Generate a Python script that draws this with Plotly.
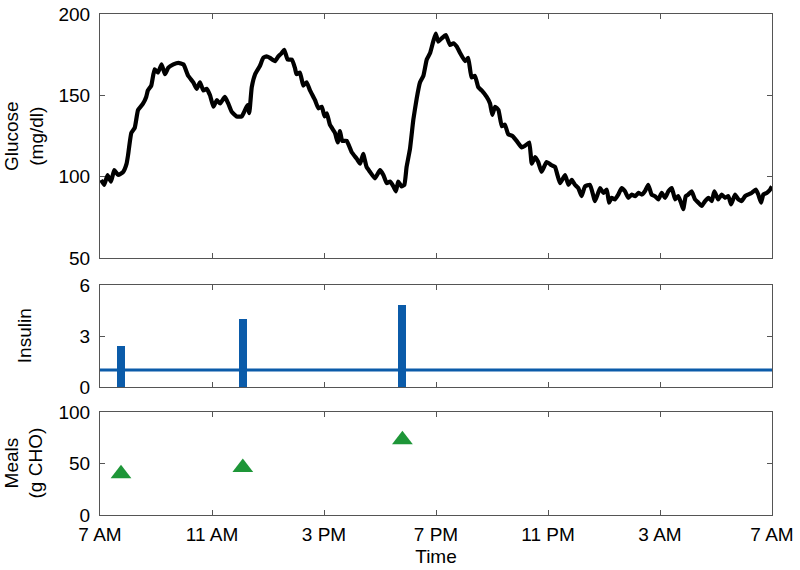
import plotly.graph_objects as go

# ---- data (hours after 7 AM) ----
glucose_t = [0.04, 0.15, 0.27, 0.39, 0.51, 0.65, 0.83, 0.95, 1.0, 1.12, 1.24, 1.36, 1.54, 1.65, 1.71, 1.83,
             1.95, 2.07, 2.2, 2.32, 2.44, 2.62, 2.8, 2.98, 3.15, 3.33, 3.45, 3.57, 3.69, 3.81, 3.93, 4.05,
             4.17, 4.29, 4.46, 4.58, 4.7, 4.88, 5.06, 5.18, 5.27, 5.33, 5.42, 5.54, 5.71, 5.83, 5.95,
             6.07, 6.25, 6.37, 6.49, 6.58, 6.70, 6.85, 6.96, 7.02, 7.14, 7.26, 7.38, 7.5, 7.68, 7.8, 7.92,
             8.02, 8.1, 8.21, 8.39, 8.49, 8.57, 8.65, 8.81, 8.99, 9.17, 9.29, 9.40, 9.52, 9.64, 9.82, 10.0,
             10.12, 10.24, 10.36, 10.48, 10.57, 10.65, 10.77, 10.87, 10.95, 11.07, 11.19, 11.31, 11.43,
             11.55, 11.67, 11.79, 11.9, 11.99, 12.08, 12.2, 12.35, 12.5, 12.62, 12.74, 12.86, 13.04, 13.15,
             13.27, 13.39, 13.51, 13.63, 13.81, 13.93, 14.01, 14.11, 14.23, 14.35, 14.46, 14.58, 14.73,
             14.88, 15.06, 15.18, 15.33, 15.42, 15.54, 15.65, 15.77, 15.95, 16.13, 16.25, 16.43, 16.61,
             16.73, 16.85, 16.96, 17.08, 17.2, 17.32, 17.5, 17.68, 17.86, 17.98, 18.1, 18.18, 18.27, 18.39,
             18.51, 18.63, 18.75, 18.87, 18.99, 19.11, 19.23, 19.35, 19.46, 19.58, 19.7, 19.82, 19.94,
             20.06, 20.18, 20.3, 20.42, 20.54, 20.65, 20.75, 20.83, 20.92, 21.01, 21.13, 21.25, 21.37,
             21.49, 21.61, 21.73, 21.85, 21.94, 22.08, 22.2, 22.32, 22.44, 22.54, 22.68, 22.8, 22.92,
             23.04, 23.15, 23.27, 23.42, 23.51, 23.61, 23.69, 23.81, 23.93, 24.0]
glucose_mgdl = [98, 95, 101, 97, 104, 101, 103, 108, 113, 127, 130, 141, 145, 149, 153, 156,
                166, 164, 169, 163, 167, 169, 170, 169, 162, 158, 154, 158, 153, 154, 150, 143,
                147, 145, 149, 145, 140, 137, 137, 141, 144, 139, 155, 163, 168, 173, 174,
                173, 171, 174, 176, 178, 172, 172, 167, 163, 164, 156, 158, 153, 147, 142, 143,
                137, 139, 132, 127, 121, 128, 122, 122, 115, 111, 108, 114, 106, 103, 99, 104,
                101, 96, 97, 94, 91, 97, 94, 95, 106, 117, 135, 148, 158,
                162, 172, 176, 183, 188, 183, 185, 187, 181, 182, 180, 176, 171, 173,
                161, 162, 155, 153, 149, 145, 138, 143, 141, 131, 132, 126, 125,
                122, 118, 119, 121, 108, 112, 109, 103, 109, 107, 106, 96, 101,
                95, 98, 95, 93, 88, 94, 95, 85, 93, 90, 92, 84, 87, 86,
                89, 93, 91, 87, 89, 88, 90, 89, 91, 95, 89, 88, 86,
                90, 87, 91, 93, 86, 88, 84, 80, 88, 89, 91, 86, 84,
                82, 85, 87, 85, 91, 86, 89, 87, 88, 83, 89, 86, 85,
                88, 89, 90, 92, 89, 84, 89, 90, 92, 94]

bolus_t = [0.75, 5.1, 10.8]
bolus_units = [2.4, 4.0, 4.8]
basal_t = [0, 24]
basal_units = [1.0, 1.0]

meal_t = [0.75, 5.1, 10.8]
meal_cho = [40, 46, 73]

x_tickvals = [0, 4, 8, 12, 16, 20, 24]
x_ticktext = ["7 AM", "11 AM", "3 PM", "7 PM", "11 PM", "3 AM", "7 AM"]

BLUE = "#0B5BA9"
GREEN = "#1E9638"
FRAME = "#555555"
FONT = "Liberation Sans"
FS = 19

fig = go.Figure()
fig.add_trace(go.Scatter(x=glucose_t, y=glucose_mgdl, mode="lines",
                         line=dict(color="black", width=4.2, shape="spline", smoothing=0.4),
                         xaxis="x", yaxis="y"))
fig.add_trace(go.Scatter(x=basal_t, y=basal_units, mode="lines",
                         line=dict(color=BLUE, width=3), xaxis="x2", yaxis="y2"))
fig.add_trace(go.Bar(x=bolus_t, y=bolus_units, width=0.29, marker=dict(color=BLUE, line_width=0),
                     xaxis="x2", yaxis="y2"))
fig.add_trace(go.Scatter(x=meal_t, y=meal_cho, mode="markers",
                         marker=dict(symbol="triangle-up", size=18, color=GREEN),
                         xaxis="x3", yaxis="y3"))

common_x = dict(range=[0, 24], tickvals=x_tickvals, ticktext=x_ticktext, ticks="inside",
                ticklen=5, tickcolor=FRAME, showline=True, linecolor=FRAME, linewidth=1,
                mirror="ticks", showgrid=False, zeroline=False, automargin=False)
common_y = dict(ticks="inside", ticklen=5, tickcolor=FRAME, showline=True, linecolor=FRAME,
                linewidth=1, mirror="ticks", showgrid=False, zeroline=False, automargin=False,
                ticklabelstandoff=5, tickfont=dict(family=FONT, size=FS, color="black"))

fig.update_layout(
    width=800, height=570,
    margin=dict(l=100, r=28, t=14, b=55),
    paper_bgcolor="white", plot_bgcolor="white",
    showlegend=False, bargap=0,
    font=dict(family=FONT, color="black"),
    xaxis=dict(**common_x, anchor="y", showticklabels=False),
    xaxis2=dict(**common_x, anchor="y2", showticklabels=False),
    xaxis3=dict(**common_x, anchor="y3", showticklabels=True, ticklabelstandoff=2,
                tickfont=dict(family=FONT, size=FS, color="black"),
                title=dict(text="Time", font=dict(family=FONT, size=FS), standoff=5)),
    yaxis=dict(**common_y, domain=[0.513, 1.0], range=[50, 200], tickvals=[50, 100, 150, 200]),
    yaxis2=dict(**common_y, domain=[0.2555, 0.459], range=[0, 6], tickvals=[0, 3, 6]),
    yaxis3=dict(**common_y, domain=[0, 0.2056], range=[0, 100], tickvals=[0, 50, 100]),
    annotations=[
        dict(text="Glucose<br>(mg/dl)", xref="paper", yref="paper", x=-0.113, y=0.7565,
             xanchor="center", yanchor="middle", textangle=-90, showarrow=False,
             font=dict(family=FONT, size=FS)),
        dict(text="Insulin", xref="paper", yref="paper", x=-0.113, y=0.357,
             xanchor="center", yanchor="middle", textangle=-90, showarrow=False,
             font=dict(family=FONT, size=FS)),
        dict(text="Meals<br>(g CHO)", xref="paper", yref="paper", x=-0.113, y=0.103,
             xanchor="center", yanchor="middle", textangle=-90, showarrow=False,
             font=dict(family=FONT, size=FS)),
    ],
)

fig.write_html("out.html", config={"displayModeBar": False},
               post_script="document.body.style.margin='0px';document.body.style.overflow='hidden';")
